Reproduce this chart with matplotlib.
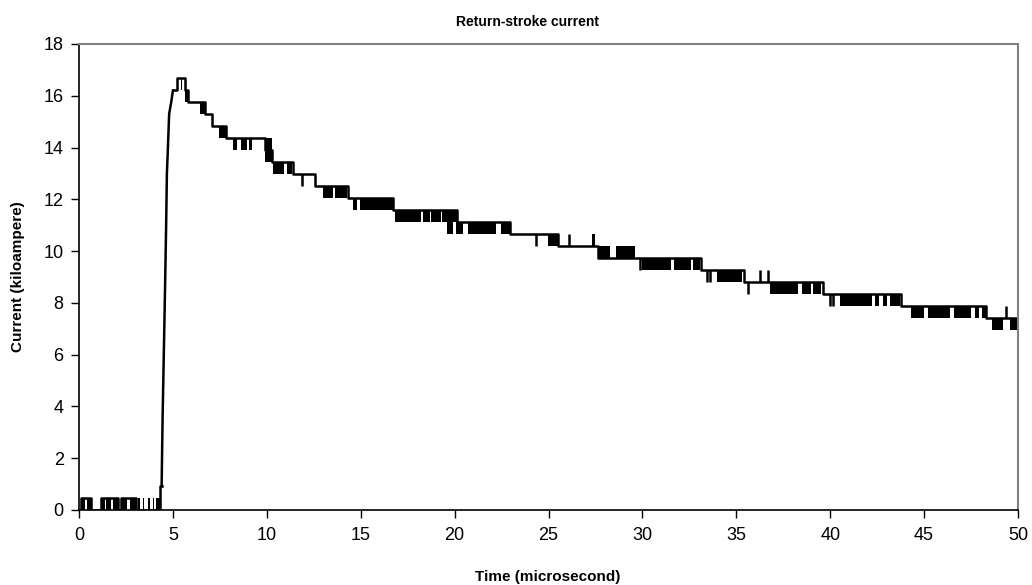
import numpy as np
import matplotlib
matplotlib.use('Agg')
import matplotlib.pyplot as plt

plt.rcParams['font.family'] = ['Liberation Sans', 'DejaVu Sans']

# digitiser step (kA per count)
lsb = 0.463

# quiet baseline before the stroke: (start time us, counts)
pre_t = [0.0, 0.11, 0.64, 1.17, 2.06, 2.24, 3.04, 4.31, 4.40]
pre_n = [0, 1, 0, 1, 0, 1, 0, 2, 2]

# rising front (kA)
rise_t = [4.40, 4.45, 4.58, 4.64, 4.68, 4.72, 4.80, 4.92, 5.00]
rise_i = [0.93, 3.5, 8.5, 11.0, 13.0, 13.7, 15.3, 15.8, 16.2]

# decay staircase: (start time us, counts)
dec_t = [5.00, 5.20, 5.64, 5.82, 6.71, 7.06, 7.83, 9.90, 10.26, 11.41, 12.57,
         14.30, 16.70, 20.15, 22.95, 25.50, 27.65, 33.10, 35.40, 39.60, 43.75,
         48.30, 50.0]
dec_n = [35, 36, 35, 34, 33, 32, 31, 30, 29, 28, 27,
         26, 25, 24, 23, 22, 21, 20, 19, 18, 17,
         16, 16]

# regions where the reading flickers between two counts
band_t0 = [0.11, 0.45, 1.17, 1.45, 1.80, 2.24, 2.70, 3.12, 3.40, 3.66, 3.93, 4.10,
           5.41, 5.64, 6.44, 7.47, 8.22, 8.61, 9.07, 9.90, 10.35, 11.06,
           13.00, 13.65, 14.60, 14.95, 16.80, 18.30, 18.75, 19.35,
           19.58, 20.10, 20.70, 20.95, 22.45, 24.97, 27.30, 27.65, 28.60,
           29.96, 31.70, 32.70, 33.95, 36.80, 38.50, 39.10,
           40.50, 42.40, 42.80, 43.20, 44.30, 45.20, 46.60, 47.70, 48.10,
           48.60, 49.60]
band_t1 = [0.30, 0.64, 1.38, 1.70, 2.06, 2.55, 3.04, 3.25, 3.48, 3.80, 4.01, 4.31,
           5.48, 5.82, 6.71, 7.83, 8.40, 8.96, 9.19, 10.26, 10.92, 11.32,
           13.55, 14.27, 14.80, 16.70, 18.20, 18.70, 19.30, 20.15,
           19.93, 20.45, 20.90, 22.20, 22.95, 25.50, 27.50, 28.30, 29.60,
           31.50, 32.60, 33.07, 35.30, 38.30, 39.00, 39.50,
           42.20, 42.60, 43.00, 43.70, 45.00, 46.40, 47.50, 47.90, 48.30,
           49.20, 50.00]
band_lo = [0, 0, 0, 0, 0, 0, 0, 0, 0, 0, 0, 0,
           35, 34, 33, 31, 30, 30, 30, 29, 28, 28,
           26, 26, 25, 25, 24, 24, 24, 24,
           23, 23, 23, 23, 23, 22, 22, 21, 21,
           20, 20, 20, 19, 18, 18, 18,
           17, 17, 17, 17, 16, 16, 16, 16, 16,
           15, 15]
band_hi = [1, 1, 1, 1, 1, 1, 1, 1, 1, 1, 1, 1,
           36, 35, 34, 32, 31, 31, 31, 31, 29, 29,
           27, 27, 26, 26, 25, 25, 25, 25,
           24, 24, 24, 24, 24, 23, 23, 22, 22,
           21, 21, 21, 20, 19, 19, 19,
           18, 18, 18, 18, 17, 17, 17, 17, 17,
           16, 16]

# single flicks
spike_t = [11.86, 24.35, 26.10, 29.85, 33.42, 33.60, 35.60, 36.28, 36.70, 40.00, 40.15, 49.35]
spike_lo = [27, 22, 22, 20, 19, 19, 18, 19, 19, 17, 17, 16]
spike_hi = [28, 23, 23, 21, 20, 20, 19, 20, 20, 18, 18, 17]

fig = plt.figure(figsize=(10.32, 5.85), dpi=100)
ax = fig.add_axes([79/1032, 1-510/585, (1018-79)/1032, (510-44)/585])

lw = 1.8
ax.step(pre_t, np.array(pre_n)*lsb, where='post', color='k', lw=lw)
ax.plot(rise_t, rise_i, color='k', lw=lw)
ax.step(dec_t, np.array(dec_n)*lsb, where='post', color='k', lw=lw)

bt0 = np.array(band_t0)
bt1 = np.array(band_t1)
blo = np.array(band_lo)*lsb
bhi = np.array(band_hi)*lsb
ax.bar(bt0, bhi-blo, width=bt1-bt0, bottom=blo, align='edge', color='k', lw=0)
ax.vlines(spike_t, np.array(spike_lo)*lsb, np.array(spike_hi)*lsb, color='k', lw=lw)

ax.set_xlim(0, 50)
ax.set_ylim(0, 18)
ax.set_xticks(np.arange(0, 51, 5))
ax.set_yticks(np.arange(0, 19, 2))
ax.tick_params(direction='out', length=6, width=1, labelsize=13, color='k')
ax.tick_params(axis='x', pad=6)
ax.tick_params(axis='y', pad=5)
for s in ['left', 'bottom']:
    ax.spines[s].set_color('k')
    ax.spines[s].set_linewidth(1.2)
for s in ['top', 'right']:
    ax.spines[s].set_color('#808080')
    ax.spines[s].set_linewidth(1.5)

fig.text(528/1032, 1-22/585, 'Return-stroke current', ha='center', va='center',
         fontsize=10, fontweight='bold')
fig.text(548/1032, 1-577/585, 'Time (microsecond)', ha='center', va='center',
         fontsize=11, fontweight='bold')
fig.text(18/1032, 1-277/585, 'Current (kiloampere)', ha='center', va='center',
         rotation=90, fontsize=11, fontweight='bold')

fig.savefig('out.png', dpi=100)
